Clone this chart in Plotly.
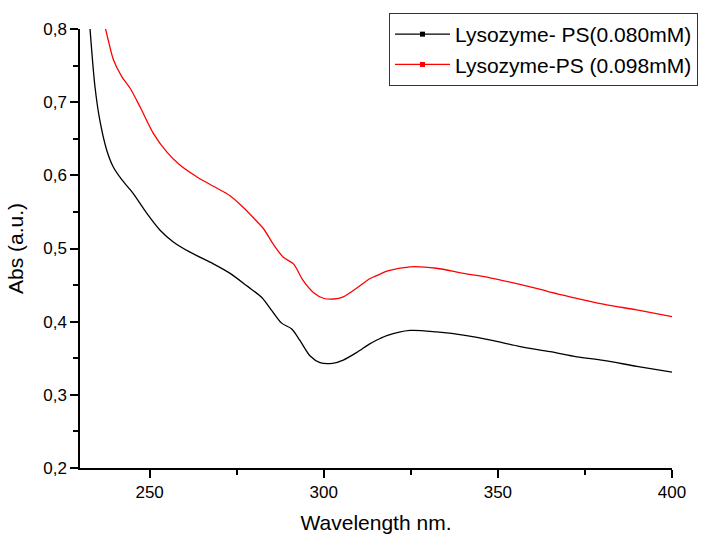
import plotly.graph_objects as go

# Lysozyme-PS (0.080 mM)
wl_black = [232.8, 234.3, 235.7, 237.7, 239.6, 242.0, 245.3, 249.2, 253.0, 256.8,
            261.6, 268.3, 273.1, 277.9, 282.2, 285.1, 287.9, 290.8, 293.2, 296.1,
            298.9, 302.5, 305.6, 309.5, 313.3, 316.2, 318.1, 324.8, 332.4, 341.0,
            348.7, 356.4, 365.0, 372.7, 380.3, 389.9, 400.0]
abs_black = [0.805, 0.721, 0.675, 0.634, 0.611, 0.594, 0.575, 0.548, 0.525, 0.509,
             0.495, 0.479, 0.466, 0.449, 0.433, 0.415, 0.398, 0.390, 0.374, 0.353,
             0.344, 0.343, 0.3475, 0.358, 0.370, 0.377, 0.381, 0.388, 0.386, 0.381,
             0.374, 0.366, 0.359, 0.352, 0.347, 0.339, 0.331]

# Lysozyme-PS (0.098 mM)
wl_red = [237.2, 238.1, 239.6, 242.0, 244.4, 247.2, 251.1, 254.9, 258.7, 263.5,
          268.3, 273.1, 276.9, 279.8, 282.7, 285.5, 288.4, 291.3, 294.1, 297.0,
          299.9, 302.8, 305.6, 309.5, 313.3, 316.2, 318.1, 324.8, 332.4, 340.1,
          347.7, 355.4, 363.1, 365.4, 370.7, 380.3, 389.9, 400.0]
abs_red = [0.803, 0.785, 0.758, 0.735, 0.719, 0.694, 0.657, 0.632, 0.614, 0.598,
           0.585, 0.572, 0.556, 0.542, 0.527, 0.506, 0.488, 0.479, 0.456, 0.440,
           0.432, 0.431, 0.434, 0.446, 0.459, 0.465, 0.469, 0.475, 0.473, 0.466,
           0.460, 0.452, 0.443, 0.440, 0.434, 0.424, 0.416, 0.407]

names = ["Lysozyme- PS(0.080mM)", "Lysozyme-PS (0.098mM)"]
colors = ["#000000", "#ff0000"]

fig = go.Figure()
for x, y, c in [(wl_black, abs_black, colors[0]), (wl_red, abs_red, colors[1])]:
    fig.add_trace(go.Scatter(x=x, y=y, mode="lines", showlegend=False,
                             line=dict(color=c, width=1.3, shape="spline", smoothing=0.8)))
# legend entries (line + square symbol)
for n, c in zip(names, colors):
    fig.add_trace(go.Scatter(x=[None], y=[None], mode="lines+markers", name=n,
                             line=dict(color=c, width=1.3),
                             marker=dict(color=c, symbol="square", size=5)))

font_family = "Arial, Liberation Sans, sans-serif"
fig.update_layout(
    width=710, height=534,
    margin=dict(l=80, r=38, t=29, b=66),
    paper_bgcolor="white", plot_bgcolor="white",
    separators=", ",
    font=dict(family=font_family, color="#000000"),
    showlegend=True,
    legend=dict(x=0.522, y=1.0364, xanchor="left", yanchor="top",
                bordercolor="#333333", borderwidth=1, bgcolor="white",
                font=dict(size=21, family=font_family), itemwidth=55,
                tracegroupgap=0),
    xaxis=dict(range=[230, 400], tickvals=[250, 300, 350, 400], automargin=False,
               ticks="outside", ticklen=8, tickwidth=1.5, tickcolor="#000",
               minor=dict(tickvals=[275, 325, 375], ticks="outside", ticklen=5,
                          tickwidth=1.5, tickcolor="#000"),
               showline=True, linecolor="#000", linewidth=1.5, mirror=False,
               showgrid=False, zeroline=False,
               tickfont=dict(size=17),
               title=dict(text="Wavelength nm.", font=dict(size=21), standoff=15)),
    yaxis=dict(range=[0.2, 0.8], tickvals=[0.2, 0.3, 0.4, 0.5, 0.6, 0.7, 0.8],
               ticktext=["0,2", "0,3", "0,4", "0,5", "0,6", "0,7", "0,8"],
               automargin=False,
               ticks="outside", ticklen=8, tickwidth=1.5, tickcolor="#000",
               minor=dict(tickvals=[0.25, 0.35, 0.45, 0.55, 0.65, 0.75],
                          ticks="outside", ticklen=5, tickwidth=1.5, tickcolor="#000"),
               showline=True, linecolor="#000", linewidth=1.5, mirror=False,
               showgrid=False, zeroline=False,
               tickfont=dict(size=17),
               title=dict(text="Abs (a.u.)", font=dict(size=21), standoff=14)),
)

fig.write_html("out.html", config={"displayModeBar": False},
               post_script="document.body.style.margin='0';"
                           "document.body.style.overflow='hidden';")
